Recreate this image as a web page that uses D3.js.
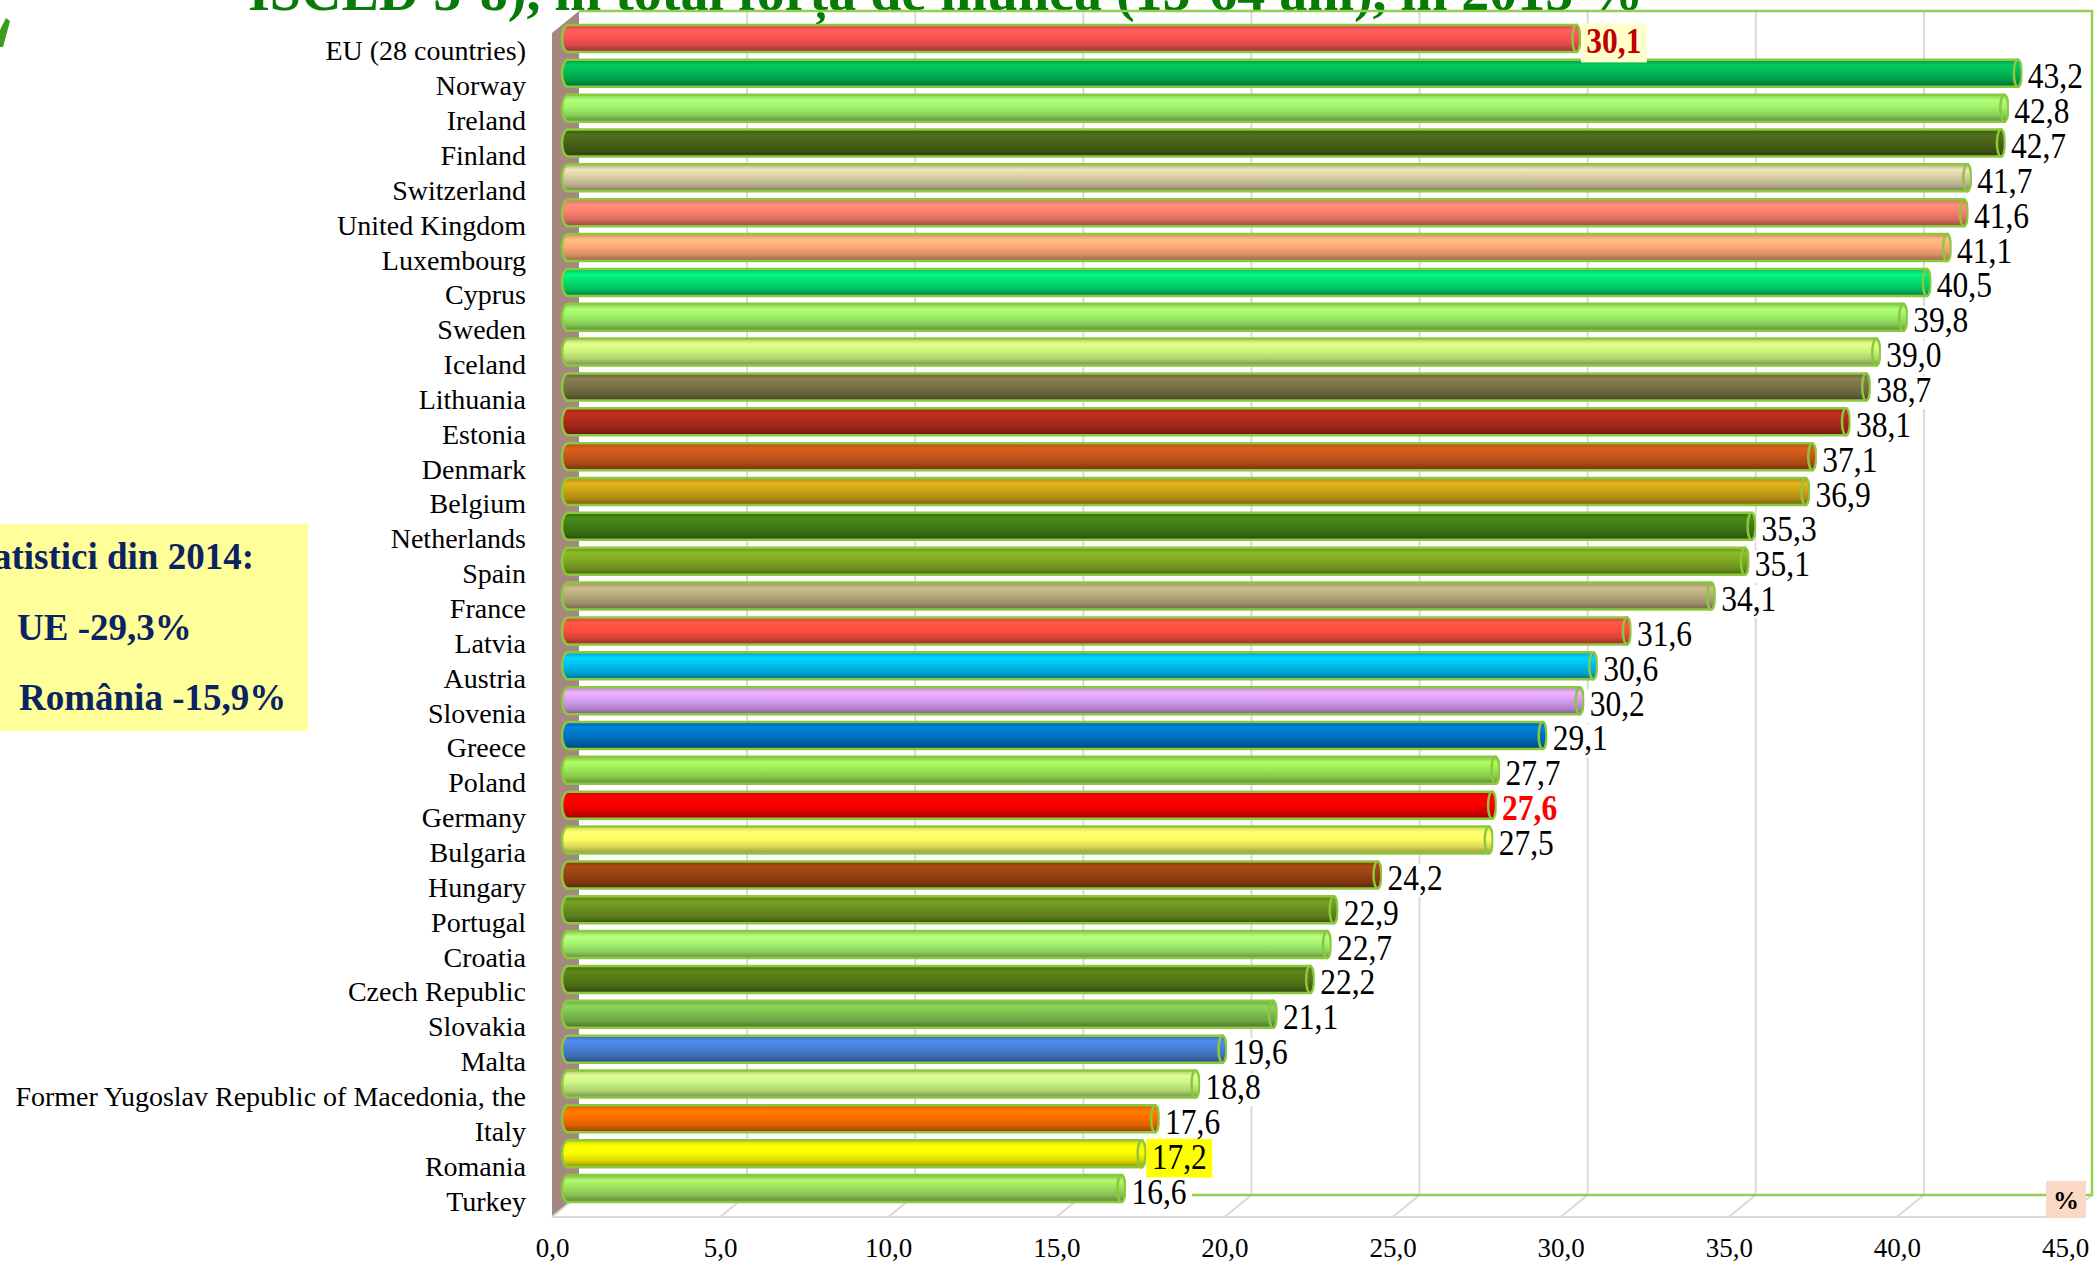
<!DOCTYPE html>
<html>
<head>
<meta charset="utf-8">
<title>ISCED 5-8, forta de munca 2015</title>
<script src="https://d3js.org/d3.v7.min.js"></script>
<style>
  body { margin: 0; background: #fff; }
  svg { display: block; font-family: "Liberation Serif", "Times New Roman", serif; }
  .cat text { font-size: 28px; fill: #000; }
  .xaxis text { font-size: 27px; fill: #000; }
</style>
</head>
<body>
<svg width="2100" height="1268"></svg>
<script>
var categories = ["EU (28 countries)", "Norway", "Ireland", "Finland", "Switzerland", "United Kingdom",
  "Luxembourg", "Cyprus", "Sweden", "Iceland", "Lithuania", "Estonia", "Denmark", "Belgium",
  "Netherlands", "Spain", "France", "Latvia", "Austria", "Slovenia", "Greece", "Poland", "Germany",
  "Bulgaria", "Hungary", "Portugal", "Croatia", "Czech Republic", "Slovakia", "Malta",
  "Former Yugoslav Republic of Macedonia, the", "Italy", "Romania", "Turkey"];
var values = [30.1, 43.2, 42.8, 42.7, 41.7, 41.6, 41.1, 40.5, 39.8, 39.0, 38.7, 38.1, 37.1, 36.9,
  35.3, 35.1, 34.1, 31.6, 30.6, 30.2, 29.1, 27.7, 27.6, 27.5, 24.2, 22.9, 22.7, 22.2, 21.1, 19.6,
  18.8, 17.6, 17.2, 16.6];
var barColors = ["#ff5555", "#00b856", "#a0f56a", "#4a6518", "#d8cfa5", "#ff8070", "#ffaa78",
  "#00e070", "#9ef066", "#cdf57e", "#7a7248", "#b02a1a", "#c8561a", "#cfa318", "#3f7f16",
  "#80aa22", "#b8aa7c", "#ff5040", "#00c0f5", "#d9a0f5", "#0075c8", "#9ee858", "#ff0000",
  "#ffff66", "#9a4212", "#6a9020", "#a6f570", "#557a18", "#7ec050", "#4a80d8", "#ccf585",
  "#ff7000", "#ffff00", "#9ee060"];
var xTicks = [0, 5, 10, 15, 20, 25, 30, 35, 40, 45];
var boxLines = ["Statistici din 2014:", "UE -29,3%", "România -15,9%"];
var title = "ISCED 5-8), în total forța de muncă (15-64 ani), în 2015 %";

var svg = d3.select("svg");
var fmt = function(v) { return d3.format(".1f")(v).replace(".", ","); };

// 3D-ish chart: back wall, floor front edge, bars in between
var backTop = 11, backBottom = 1195, floorFront = 1217;
var xBack = d3.scaleLinear().domain([0, 45]).range([579, 2092]);
var xFront = d3.scaleLinear().domain([0, 45]).range([552, 2065]);
var xBar = d3.scaleLinear().domain([0, 45]).range([562, 562 + 45 * 33.7]);
var y = d3.scaleBand().domain(categories).range([21, 1206]).paddingInner(0.225).paddingOuter(0.1125);

// title (cut off at top)
svg.append("text")
  .attr("x", 248).attr("y", 10)
  .attr("font-size", 56).attr("font-weight", "bold")
  .attr("fill", "#087a08")
  .text(title);

// bit of a logo at left edge
svg.append("path")
  .attr("d", "M0,30 L6,18 L10,21 L3,47 L0,47 Z")
  .attr("fill", "#3c9a1c");

// left wall
svg.append("path")
  .attr("d", "M552,33 L579," + backTop + " L579," + backBottom + " L552," + floorFront + " Z")
  .attr("fill", "#a4877f");

// gridlines on the back wall + floor
var grid = svg.append("g");
grid.selectAll(".gl").data(xTicks.slice(1)).enter().append("line")
  .attr("x1", function(d) { return xBack(d); }).attr("x2", function(d) { return xBack(d); })
  .attr("y1", backTop).attr("y2", backBottom)
  .attr("stroke", "#d9d9d9").attr("stroke-width", 2);
grid.selectAll(".fl").data(xTicks).enter().append("line")
  .attr("x1", function(d) { return xBack(d); }).attr("x2", function(d) { return xFront(d); })
  .attr("y1", backBottom).attr("y2", floorFront)
  .attr("stroke", "#d9d9d9").attr("stroke-width", 2);
grid.append("line")
  .attr("x1", xFront(0)).attr("x2", xFront(45))
  .attr("y1", floorFront).attr("y2", floorFront)
  .attr("stroke", "#d9d9d9").attr("stroke-width", 2);

// green plot border
svg.append("path")
  .attr("d", "M" + xBack(0) + "," + backTop + " L" + xBack(45) + "," + backTop +
    " L" + xBack(45) + "," + backBottom + " L" + xBack(0) + "," + backBottom)
  .attr("fill", "none").attr("stroke", "#92d050").attr("stroke-width", 2.5);

// gradients for the cylinders
var defs = svg.append("defs");
barColors.forEach(function(c, i) {
  var base = d3.color(c);
  var g = defs.append("linearGradient").attr("id", "grad" + i)
    .attr("x1", 0).attr("y1", 0).attr("x2", 0).attr("y2", 1);
  [[0, base.darker(0.5)], [0.2, base.brighter(0.3)], [0.45, base], [0.75, base.darker(0.45)], [1, base.darker(1.5)]]
    .forEach(function(s) {
      g.append("stop").attr("offset", s[0]).attr("stop-color", s[1].formatHex());
    });
});

var rx = 6;
var bar = svg.selectAll(".bar").data(categories).enter().append("g").attr("class", "bar");
bar.append("path")
  .attr("d", function(d, i) {
    var x0 = xBar(0), x1 = xBar(values[i]), t = y(d), h = y.bandwidth(), b = t + h;
    return "M" + (x0 + rx) + "," + t + " L" + x1 + "," + t + " L" + x1 + "," + b +
      " L" + (x0 + rx) + "," + b + " A" + rx + "," + (h / 2) + " 0 0 1 " + (x0 + rx) + "," + t + " Z";
  })
  .attr("fill", function(d, i) { return "url(#grad" + i + ")"; })
  .attr("stroke", "#8cc83c").attr("stroke-width", 2.5);
bar.append("ellipse")
  .attr("cx", function(d, i) { return xBar(values[i]); })
  .attr("cy", function(d) { return y(d) + y.bandwidth() / 2; })
  .attr("rx", 4).attr("ry", y.bandwidth() / 2)
  .attr("fill", function(d, i) { return "url(#grad" + i + ")"; })
  .attr("stroke", "#8cc83c").attr("stroke-width", 2.5);

// value labels (glyphs a bit narrow/tall like the original)
var labelStyle = {
  "EU (28 countries)": { color: "#c00000", weight: "bold", bg: "#ffffcc" },
  "Germany": { color: "#ff0000", weight: "bold", bg: "#ffffff" },
  "Romania": { color: "#000000", weight: "normal", bg: "#ffff00" }
};
var labelPos = function(d, i) {
  return "translate(" + (xBar(values[i]) + 10) + "," + (y(d) + y.bandwidth() / 2 + 15) + ") scale(0.9,1)";
};
var bgLayer = svg.append("g");
var vl = svg.selectAll(".vl").data(categories).enter().append("text").attr("class", "vl")
  .attr("transform", labelPos)
  .attr("font-size", 35)
  .attr("font-weight", function(d) { return labelStyle[d] ? labelStyle[d].weight : "normal"; })
  .attr("fill", function(d) { return labelStyle[d] ? labelStyle[d].color : "#000"; })
  .text(function(d, i) { return fmt(values[i]); });
vl.each(function(d, i) {
  var bb = this.getBBox(), s = labelStyle[d];
  bgLayer.append("rect")
    .attr("transform", labelPos(d, i))
    .attr("x", bb.x - 6).attr("y", s ? -30 : -26)
    .attr("width", bb.width + 12).attr("height", s ? 39 : 33)
    .attr("fill", s ? s.bg : "#fff");
});

// category axis
svg.append("g").attr("class", "cat")
  .attr("transform", "translate(526,13)")
  .call(d3.axisLeft(y).tickSize(0).tickPadding(0))
  .call(function(g) { g.select(".domain").remove(); })
  .attr("font-family", null).attr("font-size", null);

// value axis (front edge of floor)
svg.append("g").attr("class", "xaxis")
  .attr("transform", "translate(0," + floorFront + ")")
  .call(d3.axisBottom(xFront).tickValues(xTicks).tickSize(0).tickPadding(21).tickFormat(fmt))
  .call(function(g) { g.select(".domain").remove(); })
  .attr("font-family", null).attr("font-size", null);

// "%" unit box
svg.append("rect").attr("x", 2046).attr("y", 1181).attr("width", 40).attr("height", 37).attr("fill", "#fbd7c6");
svg.append("text").attr("x", 2066).attr("y", 1209).attr("text-anchor", "middle")
  .attr("font-size", 26).attr("font-weight", "bold").text("%");

// yellow note box
svg.append("rect").attr("x", 0).attr("y", 524).attr("width", 308).attr("height", 207).attr("fill", "#ffff99");
var note = svg.append("g").attr("fill", "#0b2362").attr("font-weight", "bold").attr("font-size", 37);
note.append("text").attr("x", 254).attr("y", 569).attr("text-anchor", "end").text(boxLines[0]);
note.append("text").attr("x", 17).attr("y", 640).text(boxLines[1]);
note.append("text").attr("x", 19).attr("y", 710).text(boxLines[2]);
</script>
</body>
</html>
